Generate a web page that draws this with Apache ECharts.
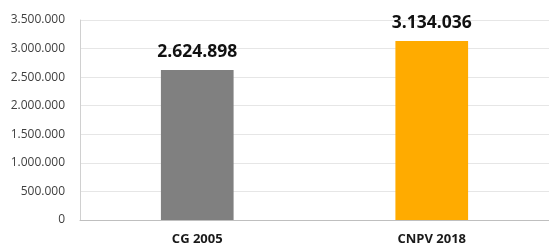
<!DOCTYPE html>
<html><head><meta charset="utf-8">
<script src="https://cdn.jsdelivr.net/npm/echarts@6/dist/echarts.min.js"></script>
<style>html,body{margin:0;padding:0;background:#fff}#c{width:549px;height:247px}</style>
</head><body><div id="c"></div>
<script>
var categories = ['CG 2005', 'CNPV 2018'];
var values = [2624898, 3134036];
var colors = ['#808080', '#FFAB00'];
var yMax = 3500000, yStep = 500000;
function fmt(v){ return String(Math.round(v)).replace(/\B(?=(\d{3})+(?!\d))/g, '.'); }
var chart = echarts.init(document.getElementById('c'));
chart.setOption({
  animation: false,
  grid: {left: 80, right: -3, top: 20, bottom: 27, containLabel: false},
  xAxis: {
    type: 'category', data: categories,
    axisLine: {lineStyle: {color: '#bfbfbf', width: 1}},
    axisTick: {show: false},
    axisLabel: {fontFamily: 'Open Sans', fontWeight: 'bold', fontSize: 13, color: '#1a1a1a', margin: 13}
  },
  yAxis: {
    type: 'value', min: 0, max: yMax, interval: yStep,
    axisLine: {show: true, lineStyle: {color: '#d0d0d0'}},
    axisTick: {show: false},
    splitLine: {lineStyle: {color: '#e6e6e6', width: 1}},
    axisLabel: {fontFamily: 'Open Sans', fontSize: 12, color: '#404040', margin: 15, formatter: fmt}
  },
  series: [{
    type: 'bar', barWidth: '31%',
    data: values.map(function(v, i){ return {value: v, itemStyle: {color: colors[i]}}; }),
    label: {show: true, position: 'top', distance: 9, fontFamily: 'Open Sans', fontWeight: 'bold', fontSize: 17.5, color: '#111', formatter: function(p){ return fmt(p.value); }}
  }]
});
</script></body></html>
